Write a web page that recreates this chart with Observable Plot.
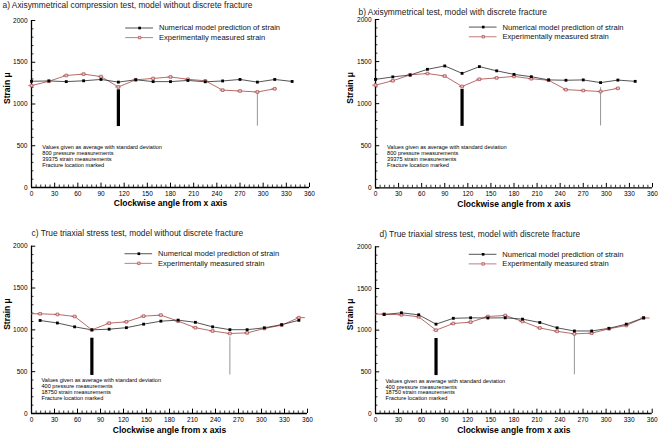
<!DOCTYPE html>
<html>
<head>
<meta charset="utf-8">
<script src="https://cdn.jsdelivr.net/npm/d3@7"></script>
<script src="https://cdn.jsdelivr.net/npm/@observablehq/plot@0.6"></script>
<style>
  body { margin: 0; background: #fff; }
  #wrap { position: relative; width: 660px; height: 438px; }
  .cell { position: absolute; width: 330px; height: 219px; }
  svg { overflow: visible; }
</style>
</head>
<body>
<div id="wrap"></div>
<script>
// ---------- data ----------
const anglesAxi = [0, 22.5, 45, 67.5, 90, 112.5, 135, 157.5, 180, 202.5, 225, 247.5, 270, 292.5, 315, 337.5];
const modelA = [1272, 1276, 1268, 1278, 1294, 1262, 1290, 1268, 1268, 1282, 1266, 1276, 1294, 1262, 1294, 1270];
const modelB = [1288, 1318, 1340, 1408, 1448, 1360, 1440, 1390, 1348, 1320, 1282, 1278, 1282, 1250, 1280, 1265];
const expAxiAngles = [0, 22.5, 45, 67.5, 90, 112.5, 135, 157.5, 180, 202.5, 225, 247.5, 270, 292.5, 315];
const expAxi = [1220, 1272, 1342, 1358, 1328, 1204, 1290, 1306, 1324, 1296, 1278, 1166, 1156, 1144, 1182];

const anglesTri = [11.25, 33.75, 56.25, 78.75, 101.25, 123.75, 146.25, 168.75, 191.25, 213.75, 236.25, 258.75, 281.25, 303.75, 326.25, 348.75];
const modelC = [1112, 1082, 1036, 1000, 1008, 1026, 1068, 1104, 1116, 1090, 1036, 1002, 1002, 1024, 1062, 1114];
const modelD = [1188, 1208, 1184, 1072, 1142, 1148, 1146, 1148, 1132, 1092, 1028, 990, 990, 1022, 1072, 1148];
const expTri = [1192, 1184, 1160, 1000, 1080, 1096, 1164, 1176, 1104, 1026, 986, 956, 964, 1016, 1056, 1146];
const expTriEdgeAngles = [0, 356];
const expTriEdge = [1192, 1146];

const xTicks = [0, 30, 60, 90, 120, 150, 180, 210, 240, 270, 300, 330, 360];
const yTicks = [0, 500, 1000, 1500, 2000];

const fracAxi = {angle: [112.5, 292.5], top: [1170, 1150], bottom: [730, 735]};
const fracAxiB = {angle: [112.5, 292.5], top: [1170, 1190], bottom: [730, 735]};
const fracTri = {angle: [78.75, 258.75], top: [900, 915], bottom: [455, 460]};
const fracTriD = {angle: [78.75, 258.75], top: [900, 940], bottom: [455, 465]};

const titles = [
  "a) Axisymmetrical compression test, model without discrete fracture",
  "b) Axisymmetrical test, model with discrete fracture",
  "c) True triaxial stress test, model without discrete fracture",
  "d) True triaxial stress test, model with discrete fracture"
];
const legendLabels = ["Numerical model prediction of strain", "Experimentally measured strain"];
const notesAxi = ["Values given as average with standard deviation", "800 pressure measurements", "39375 strain measurements", "Fracture location marked"];
const notesTri = ["Values given as average with standard deviation", "400 pressure measurements", "18750 strain measurements", "Fracture location marked"];
const xLabel = "Clockwise angle from x axis";
const yLabel = "Strain \u03bc";

// ---------- helpers ----------
const zip = (xs, ys) => xs.map((x, i) => ({x, y: ys[i]}));
const xMinor = d3.range(0, 361, 6).filter(v => v % 30 !== 0);
const yMinor = d3.range(0, 2001, 100).filter(v => v % 500 !== 0);

const MODEL_COLOR = "#2a2a2a";
const EXP_COLOR = "#b05a5a";
const EXP_FILL = "#f3c9c9";

function panel(cfg) {
  const model = zip(cfg.modelAngles, cfg.model);
  const exp = zip(cfg.expAngles, cfg.exp);
  const expLine = cfg.expEdge ? exp.concat(zip(cfg.expEdge.angles, cfg.expEdge.values)).sort((a, b) => a.x - b.x) : exp;
  const frac = cfg.frac.angle.map((a, i) => ({x: a, y1: cfg.frac.bottom[i], y2: cfg.frac.top[i], thick: i === 0}));
  const L = cfg.legend;
  const legendRows = [
    {y: L.y[0], label: legendLabels[0], kind: "model"},
    {y: L.y[1], label: legendLabels[1], kind: "exp"}
  ];
  return Plot.plot({
    width: 330,
    height: 219,
    marginLeft: cfg.m[0], marginRight: cfg.m[1], marginTop: cfg.m[2], marginBottom: cfg.m[3],
    x: {domain: [0, 360]},
    y: {domain: [0, 2000]},
    style: {fontFamily: "'Liberation Sans', Arial, sans-serif", fontSize: "6.5px", background: "transparent", color: "#000"},
    marks: [
      // axis lines
      Plot.ruleY([0], {x1: 0, x2: 360, stroke: "#000", strokeWidth: 1.3}),
      Plot.ruleX([0], {y1: 0, y2: 2000, stroke: "#000", strokeWidth: 1.3}),
      // inward ticks
      Plot.ruleX(xTicks, {y1: 0, y2: 52, stroke: "#000", strokeWidth: 1}),
      Plot.ruleX(xMinor, {y1: 0, y2: 30, stroke: "#000", strokeWidth: 0.8}),
      Plot.ruleY(yTicks, {x1: 0, x2: 5.5, stroke: "#000", strokeWidth: 1}),
      Plot.ruleY(yMinor, {x1: 0, x2: 3.2, stroke: "#000", strokeWidth: 0.8}),
      Plot.axisX({ticks: xTicks, tickSize: 0, tickPadding: 4, fontSize: 6.5, label: null, tickFormat: d => String(d)}),
      Plot.axisY({ticks: yTicks, tickSize: 0, tickPadding: 4, fontSize: 6.5, label: null, tickFormat: d => String(d)}),
      // fracture markers
      Plot.ruleX(frac.filter(d => d.thick), {x: "x", y1: "y1", y2: "y2", stroke: "#000", strokeWidth: 3.2}),
      Plot.ruleX(frac.filter(d => !d.thick), {x: "x", y1: "y1", y2: "y2", stroke: "#8a8a8a", strokeWidth: 0.9}),
      // series
      Plot.line(expLine, {x: "x", y: "y", stroke: EXP_COLOR, strokeWidth: 0.9}),
      Plot.line(model, {x: "x", y: "y", stroke: MODEL_COLOR, strokeWidth: 0.8}),
      Plot.ruleY(exp, {y: "y", x1: d => d.x - 3.5, x2: d => d.x + 3.5, stroke: EXP_COLOR, strokeWidth: 0.9}),
      Plot.dot(exp, {x: "x", y: "y", symbol: "square", r: 1.5, fill: EXP_FILL, stroke: EXP_COLOR, strokeWidth: 0.8}),
      Plot.dot(model, {x: "x", y: "y", symbol: "square", r: 1.6, fill: "#000", stroke: "none"}),
      // legend
      Plot.ruleY(legendRows, {y: "y", x1: L.x1, x2: L.x2, stroke: d => d.kind === "model" ? MODEL_COLOR : EXP_COLOR, strokeWidth: 0.8}),
      Plot.dot(legendRows.filter(d => d.kind === "model"), {x: L.xm, y: "y", symbol: "square", r: 1.5, fill: "#000"}),
      Plot.dot(legendRows.filter(d => d.kind === "exp"), {x: L.xm, y: "y", symbol: "square", r: 1.4, fill: EXP_FILL, stroke: EXP_COLOR, strokeWidth: 0.8}),
      Plot.text(legendRows, {x: L.xt, y: "y", text: "label", textAnchor: "start", fontSize: 7.6, fill: "#111"}),
      // notes
      Plot.text([cfg.notes.join("\n")], {x: cfg.noteAt[0], y: cfg.noteAt[1], text: d => d, textAnchor: "start", lineAnchor: "top", fontSize: 5.6, lineHeight: 1.05, fill: "#000"}),
      // title and axis labels
      Plot.text([cfg.title], {frameAnchor: "top-left", dx: cfg.titleD[0], dy: cfg.titleD[1], textAnchor: "start", lineAnchor: "middle", fontSize: 8.4, fill: "#222"}),
      Plot.text([xLabel], {frameAnchor: "bottom", dy: cfg.xLabelDy, lineAnchor: "middle", fontSize: 8.5, fontWeight: "bold", fill: "#000"}),
      Plot.text([yLabel], {frameAnchor: "left", dx: cfg.yLabelDx, rotate: -90, lineAnchor: "middle", fontSize: 8.5, fontWeight: "bold", fill: "#000"})
    ]
  });
}

const legendStd = {x1: 122, x2: 158, xm: 140, xt: 165, y: [1910, 1795]};

const panels = [
  {pos: [0, 0], m: [31, 21, 20, 32], title: titles[0], titleD: [-29, -15], xLabelDy: 16, yLabelDx: -24,
   modelAngles: anglesAxi, model: modelA, expAngles: expAxiAngles, exp: expAxi, frac: fracAxi,
   legend: legendStd, notes: notesAxi, noteAt: [14, 510]},
  {pos: [330, 0], m: [45, 8, 19, 31.7], title: titles[1], titleD: [-17, -7.5], xLabelDy: 16, yLabelDx: -25,
   modelAngles: anglesAxi, model: modelB, expAngles: expAxiAngles, exp: expAxi, frac: fracAxiB,
   legend: legendStd, notes: notesAxi, noteAt: [15, 512]},
  {pos: [0, 219], m: [31, 23, 26.7, 25], title: titles[2], titleD: [0, -13.4], xLabelDy: 17, yLabelDx: -24,
   modelAngles: anglesTri, model: modelC, expAngles: anglesTri, exp: expTri, expEdge: {angles: expTriEdgeAngles, values: expTriEdge}, frac: fracTri,
   legend: legendStd, notes: notesTri, noteAt: [13, 425]},
  {pos: [330, 219], m: [45, 8.3, 27.3, 25], title: titles[3], titleD: [4, -13], xLabelDy: 17, yLabelDx: -25,
   modelAngles: anglesTri, model: modelD, expAngles: anglesTri, exp: expTri, expEdge: {angles: expTriEdgeAngles, values: expTriEdge}, frac: fracTriD,
   legend: legendStd, notes: notesTri, noteAt: [13, 420]}
];

const wrap = document.getElementById("wrap");
for (const cfg of panels) {
  const div = document.createElement("div");
  div.className = "cell";
  div.style.left = cfg.pos[0] + "px";
  div.style.top = cfg.pos[1] + "px";
  div.appendChild(panel(cfg));
  wrap.appendChild(div);
}
</script>
</body>
</html>
